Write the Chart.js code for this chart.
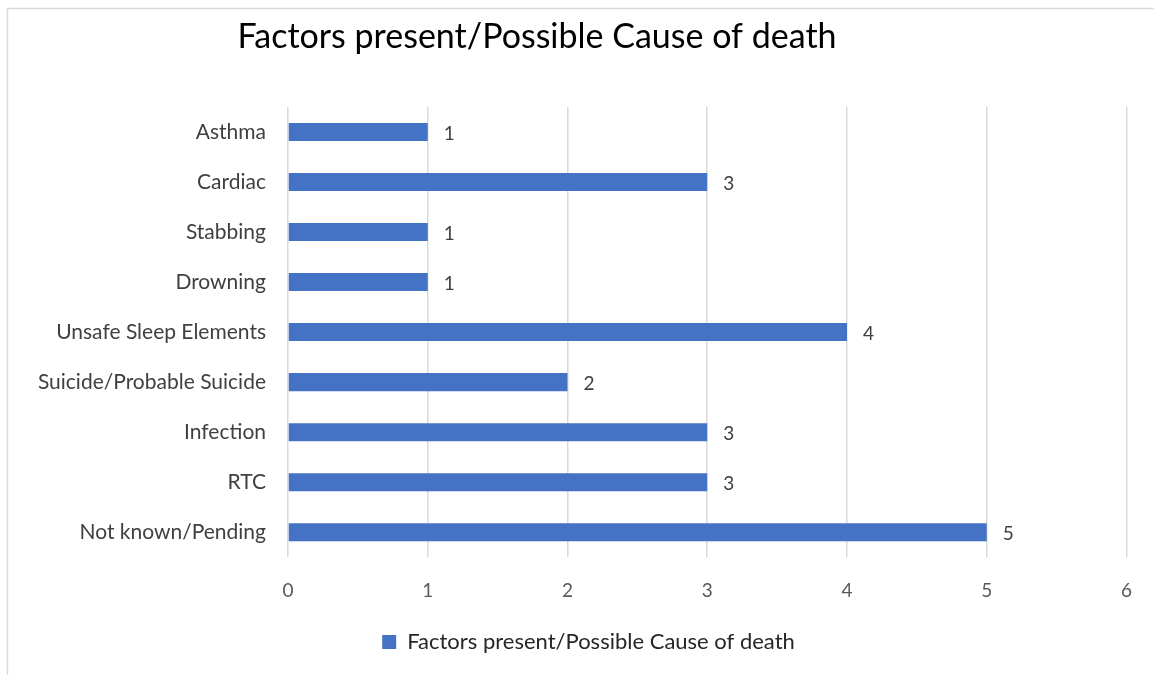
<!DOCTYPE html>
<html>
<head>
<meta charset="utf-8">
<script src="https://cdn.jsdelivr.net/npm/chart.js@4"></script>
<style>
  html, body { margin: 0; padding: 0; background: #fff; }
  #wrap { width: 1154px; height: 675px; position: relative; }
</style>
</head>
<body>
<div id="wrap"><canvas id="causechart"></canvas></div>
<script>
// values
const categories = [
    'Asthma',
    'Cardiac',
    'Stabbing',
    'Drowning',
    'Unsafe Sleep Elements',
    'Suicide/Probable Suicide',
    'Infection',
    'RTC',
    'Not known/Pending'
];
const counts = [1, 3, 1, 1, 4, 2, 3, 3, 5];
const seriesName = 'Factors present/Possible Cause of death';
const chartTitle = 'Factors present/Possible Cause of death';
const xTicks = [0, 1, 2, 3, 4, 5, 6];

const FONT = 'Lato, "Open Sans", sans-serif';

// frame around the chart + title
const frameAndTitle = {
    id: 'frameAndTitle',
    beforeDraw(chart) {
        const { ctx } = chart;
        ctx.save();
        ctx.strokeStyle = '#d9d9d9';
        ctx.lineWidth = 1.5;
        ctx.strokeRect(7.5, 8.5, 2000, 2000);
        ctx.fillStyle = '#000000';
        ctx.font = '34px ' + FONT;
        ctx.textAlign = 'center';
        ctx.textBaseline = 'middle';
        ctx.fillText(chartTitle, 537, 37);
        ctx.restore();
    }
};

// nudge the legend a bit to the right, like the original
const legendShift = {
    id: 'legendShift',
    afterLayout(chart) {
        if (chart.legend) {
            chart.legend.left += 15;
            chart.legend.right += 15;
        }
    }
};

// value labels at the end of each bar
const barValues = {
    id: 'barValues',
    afterDatasetsDraw(chart) {
        const { ctx } = chart;
        const meta = chart.getDatasetMeta(0);
        ctx.save();
        ctx.fillStyle = '#404040';
        ctx.font = '19px ' + FONT;
        ctx.textAlign = 'left';
        ctx.textBaseline = 'middle';
        meta.data.forEach(function (bar, i) {
            ctx.fillText(String(counts[i]), bar.x + 16, bar.y + 2);
        });
        ctx.restore();
    }
};

new Chart(document.getElementById('causechart'), {
    type: 'bar',
    data: {
        labels: categories,
        datasets: [{
            label: seriesName,
            data: counts,
            backgroundColor: '#4472C4',
            borderWidth: 0,
            categoryPercentage: 1,
            barPercentage: 0.36
        }]
    },
    options: {
        indexAxis: 'y',
        responsive: true,
        maintainAspectRatio: false,
        animation: false,
        layout: {
            padding: { top: 107, left: 20, right: 27, bottom: 12 }
        },
        scales: {
            x: {
                min: 0,
                max: 6,
                afterBuildTicks(axis) {
                    axis.ticks = xTicks.map(v => ({ value: v }));
                },
                grid: {
                    color: '#d9d9d9',
                    lineWidth: 1.5,
                    drawTicks: false
                },
                border: { display: false },
                ticks: {
                    color: '#595959',
                    font: { family: FONT, size: 19 },
                    padding: 22
                }
            },
            y: {
                grid: { display: false, drawTicks: false },
                border: { display: false },
                afterFit(axis) {
                    axis.width = 268;
                },
                ticks: {
                    color: '#404040',
                    font: { family: FONT, size: 21 },
                    padding: 22
                }
            }
        },
        plugins: {
            legend: {
                position: 'bottom',
                labels: {
                    color: '#262626',
                    font: { family: FONT, size: 22 },
                    boxWidth: 14,
                    boxHeight: 14,
                    padding: 7
                }
            },
            tooltip: { enabled: false }
        }
    },
    plugins: [frameAndTitle, legendShift, barValues]
});
</script>
</body>
</html>
